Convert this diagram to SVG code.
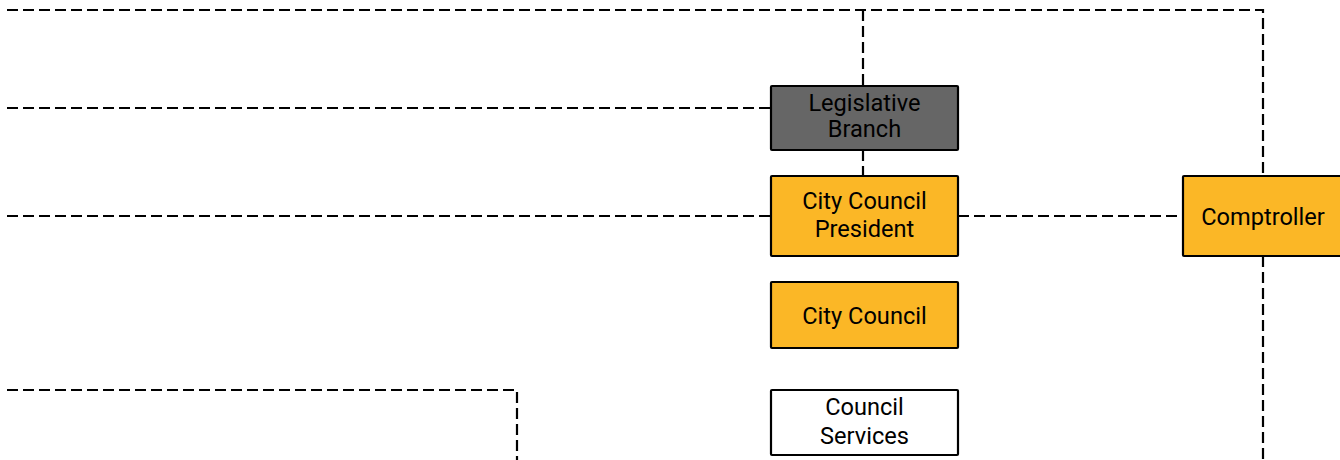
<svg xmlns="http://www.w3.org/2000/svg" width="1340" height="460" viewBox="0 0 1340 460">
<style>
.c{fill:none;stroke:#000;stroke-width:2.2;stroke-dasharray:11 5}
.b{stroke:#000;stroke-width:2.2}
.o{fill:#FBB726}
.g{fill:#666666}
.w{fill:#ffffff}
text{font-family:Roboto,"Liberation Sans",sans-serif;font-size:23.6px;fill:#000;text-anchor:middle}
</style>
<rect width="1340" height="460" fill="#fff"/>
<g id="connectors">
<path class="c" d="M7 10H1263V176"/>
<path class="c" d="M863 10V86"/>
<path class="c" d="M863 150V176"/>
<path class="c" d="M7 108H771"/>
<path class="c" d="M7 216H771"/>
<path class="c" d="M958 216H1183"/>
<path class="c" d="M7 390H517V460"/>
<path class="c" d="M1263 256V460"/>
</g>
<g id="legislative-branch">
<rect class="b g" x="771" y="86" width="187" height="64" rx="1"/>
<text x="864.5" y="111">Legislative</text>
<text x="864.5" y="137">Branch</text>
</g>
<g id="city-council-president">
<rect class="b o" x="771" y="176" width="187" height="80" rx="1"/>
<text x="864.5" y="208.5">City Council</text>
<text x="864.5" y="237">President</text>
</g>
<g id="city-council">
<rect class="b o" x="771" y="282" width="187" height="66" rx="1"/>
<text x="864.5" y="323.5">City Council</text>
</g>
<g id="council-services">
<rect class="b w" x="771" y="390" width="187" height="65" rx="1"/>
<text x="864.5" y="415">Council</text>
<text x="864.5" y="443.5">Services</text>
</g>
<g id="comptroller">
<rect class="b o" x="1183" y="176" width="170" height="80" rx="1"/>
<text x="1263" y="224.5">Comptroller</text>
</g>
</svg>
